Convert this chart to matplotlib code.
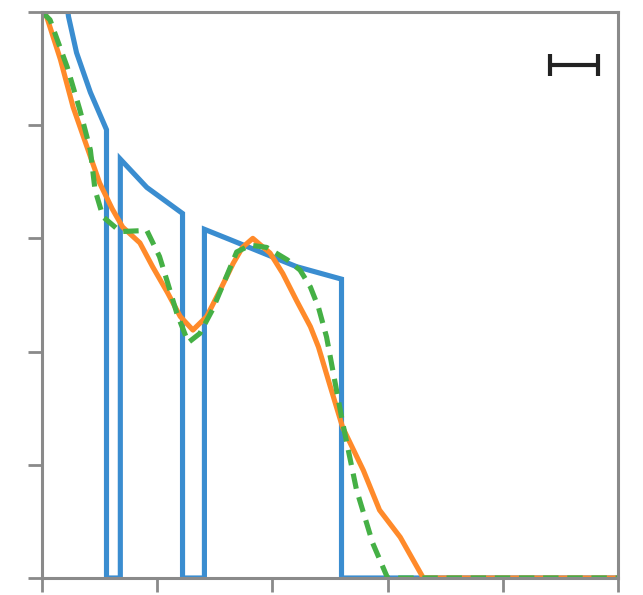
import numpy as np
import matplotlib
matplotlib.use('Agg')
import matplotlib.pyplot as plt

# blue: piecewise profile with gaps dropping to zero
blue_x = [0.20, 0.23, 0.30, 0.42, 0.56, 0.56, 0.68, 0.68, 0.91, 1.22, 1.22, 1.41, 1.41,
          1.63, 1.92, 2.21, 2.60, 2.60, 5.0]
blue_y = [5.2, 4.96, 4.64, 4.29, 3.96, 0.0, 0.0, 3.70, 3.45, 3.22, 0.0, 0.0, 3.08,
          2.99, 2.87, 2.75, 2.64, 0.0, 0.0]

# orange: smooth solid curve
orange_x = [0.0, 0.04, 0.16, 0.27, 0.39, 0.50, 0.61, 0.70, 0.85, 0.96, 1.09, 1.20,
            1.31, 1.43, 1.55, 1.66, 1.74, 1.83, 1.98, 2.09, 2.21, 2.33, 2.40, 2.50,
            2.61, 2.79, 2.93, 3.11, 3.31, 5.0]
orange_y = [5.0, 4.96, 4.58, 4.16, 3.81, 3.49, 3.26, 3.10, 2.96, 2.75, 2.52, 2.31,
            2.19, 2.31, 2.55, 2.78, 2.92, 3.0, 2.87, 2.69, 2.45, 2.22, 2.04, 1.70,
            1.33, 0.95, 0.60, 0.36, 0.0, 0.0]

# green: dashed curve
green_x = [0.0, 0.07, 0.22, 0.33, 0.42, 0.46, 0.53, 0.68, 0.91, 1.02, 1.09, 1.17,
           1.27, 1.37, 1.48, 1.60, 1.69, 1.81, 1.95, 2.13, 2.24, 2.33, 2.40, 2.47,
           2.61, 2.73, 2.87, 3.0, 5.0]
green_y = [5.0, 4.93, 4.51, 4.13, 3.78, 3.43, 3.19, 3.06, 3.07, 2.84, 2.61, 2.34,
           2.08, 2.16, 2.37, 2.66, 2.88, 2.94, 2.92, 2.81, 2.72, 2.57, 2.39, 2.13,
           1.37, 0.78, 0.31, 0.0, 0.0]

# scale bar in the corner
bar_x, bar_y, bar_half = 4.62, 4.53, 0.21

ticks = [0, 1, 2, 3, 4, 5]

fig = plt.figure(figsize=(6.43, 5.95), dpi=100)
ax = fig.add_axes([0.0653, 0.0286, 0.8958, 0.9513])

ax.plot(blue_x, blue_y, color='#3a8dd0', lw=3.7, solid_joinstyle='miter')
ax.plot(orange_x, orange_y, color='#ff8a2a', lw=3.7, solid_joinstyle='round')
ax.plot(green_x, green_y, color='#45b045', lw=3.7, ls='--', dashes=(3.0, 1.7),
        dash_joinstyle='round')

ax.errorbar(bar_x, bar_y, xerr=bar_half, fmt='none', ecolor='#222222',
            elinewidth=3, capsize=8, capthick=3)

ax.set_xlim(0, 5)
ax.set_ylim(0, 5)
ax.set_xticks(ticks)
ax.set_yticks(ticks)
ax.set_xticklabels([])
ax.set_yticklabels([])
ax.tick_params(direction='out', length=10, width=2, color='#8a8a8a')
for s in ax.spines.values():
    s.set_color('#8a8a8a')
    s.set_linewidth(2.2)

plt.savefig('out.png', dpi=100)
